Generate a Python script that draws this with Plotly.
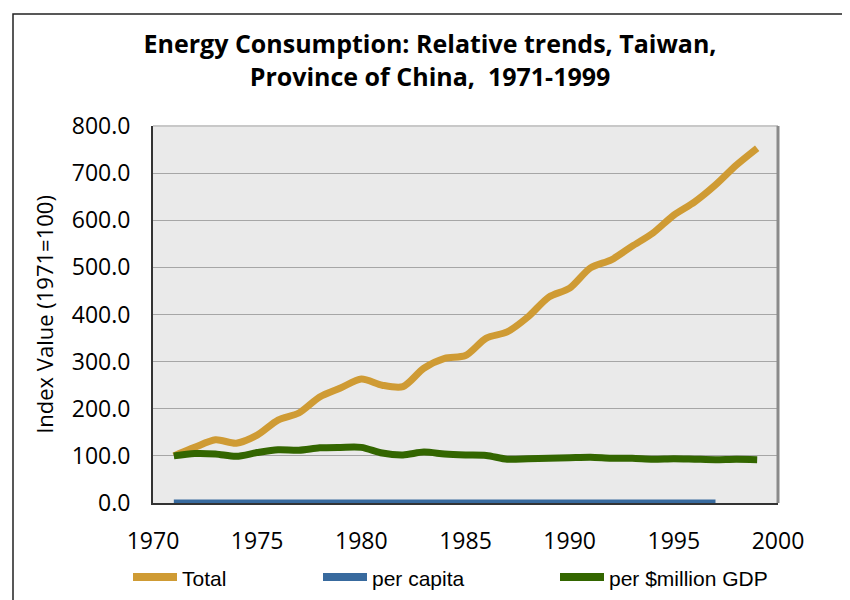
import plotly.graph_objects as go

years = list(range(1971, 2000))
total = [100, 118, 134, 127, 144, 176, 191, 225, 244, 263, 250, 247, 286, 307, 313,
         350, 363, 395, 437, 456, 499, 516, 545, 573, 611, 639, 675, 717, 753]
per_capita_years = list(range(1971, 1998))
per_capita = [0.0, 0.0, 0.0, 0.0, 0.0, 0.0, 0.0, 0.0, 0.0, 0.0, 0.0, 0.0, 0.0, 0.0,
              0.0, 0.0, 0.0, 0.0, 0.0, 0.0, 0.0, 0.0, 0.0, 0.0, 0.0, 0.0, 0.0]
per_gdp = [100, 105, 104, 99, 107, 113, 112, 117, 118, 118, 106, 102, 108, 104, 102,
           101, 93, 94, 95, 96, 97, 95, 95, 93, 94, 93, 92, 93, 92]

series_names = ["Total", "per capita", "per $million GDP"]
title_text = "Energy Consumption: Relative trends, Taiwan,<br>Province of China,  1971-1999"
y_title = "Index Value (1971=100)"
y_ticks = [0, 100, 200, 300, 400, 500, 600, 700, 800]
x_ticks = [1970, 1975, 1980, 1985, 1990, 1995, 2000]

C_TOTAL = "#CF9B34"
C_PC = "#386A9E"
C_GDP = "#336600"
colors = [C_TOTAL, C_PC, C_GDP]

FONT = "Open Sans, Noto Sans, sans-serif"

fig = go.Figure()
fig.add_trace(go.Scatter(x=years, y=total, mode="lines", name=series_names[0],
                         line=dict(color=C_TOTAL, width=7, shape="spline", smoothing=0.8)))
fig.add_trace(go.Scatter(x=per_capita_years, y=per_capita, mode="lines", name=series_names[1],
                         line=dict(color=C_PC, width=7, shape="spline", smoothing=0.8)))
fig.add_trace(go.Scatter(x=years, y=per_gdp, mode="lines", name=series_names[2],
                         line=dict(color=C_GDP, width=7, shape="spline", smoothing=0.8)))

OFF = 8  # page body margin offset
W, H = 850, 600
# target plot area in screenshot coordinates
PL, PR, PT, PB = 153, 778, 126, 503
L, T = PL - OFF, PT - OFF
R, B = W - (PR - OFF), H - (PB - OFF)
pw, ph = W - L - R, H - T - B

def px(x):
    return (x - OFF - L) / pw

def py(y):
    return (H - B - (y - OFF)) / ph

shapes = [
    dict(type="line", xref="paper", yref="paper", x0=0, x1=1, y0=1, y1=1,
         line=dict(color="#C8C8C8", width=2)),
    dict(type="line", xref="paper", yref="paper", x0=1, x1=1, y0=0, y1=1,
         line=dict(color="#8A8A8A", width=3)),
    dict(type="rect", xref="paper", yref="paper", x0=px(13), x1=px(843),
         y0=py(630), y1=py(14), line=dict(color="#222", width=1.5),
         fillcolor="rgba(0,0,0,0)", layer="below"),
]
annotations = []
leg_x = [130, 320, 557]
leg_y = 577
for name, col, lx in zip(series_names, colors, leg_x):
    shapes.append(dict(type="line", xref="paper", yref="paper", x0=px(lx + 3), x1=px(lx + 47),
                       y0=py(leg_y), y1=py(leg_y), line=dict(color=col, width=8)))
    annotations.append(dict(xref="paper", yref="paper", x=px(lx + 50), y=py(leg_y + 1),
                            xanchor="left", yanchor="middle", showarrow=False, text=name,
                            font=dict(family="Liberation Sans, Arial, sans-serif", size=21,
                                      color="#000")))

fig.update_layout(
    width=W, height=H,
    margin=dict(l=L, r=R, t=T, b=B),
    paper_bgcolor="white",
    plot_bgcolor="#EAEAEA",
    showlegend=False,
    title=dict(text=title_text, xref="container", x=(430 - OFF) / W, xanchor="center",
               yref="container", y=1 - 45 / H, yanchor="middle",
               font=dict(family=FONT, size=25, color="#000", weight="bold")),
    font=dict(family=FONT, color="#000"),
    xaxis=dict(range=[1970, 2000], tickvals=x_ticks, ticks="", showgrid=False,
               showline=True, linecolor="#333", linewidth=2, zeroline=False,
               automargin=False,
               tickfont=dict(size=23, family=FONT), ticklabelstandoff=16),
    yaxis=dict(range=[0, 800], tickvals=y_ticks, tickformat=".1f", ticks="",
               showgrid=True, gridcolor="#A6A6A6", gridwidth=1, zeroline=False,
               showline=True, linecolor="#333", linewidth=2, automargin=False,
               tickfont=dict(size=23, family=FONT), ticklabelstandoff=16,
               title=dict(text=y_title, standoff=12, font=dict(size=22, family=FONT))),
    shapes=shapes,
    annotations=annotations,
)

fig.write_html("out.html")
